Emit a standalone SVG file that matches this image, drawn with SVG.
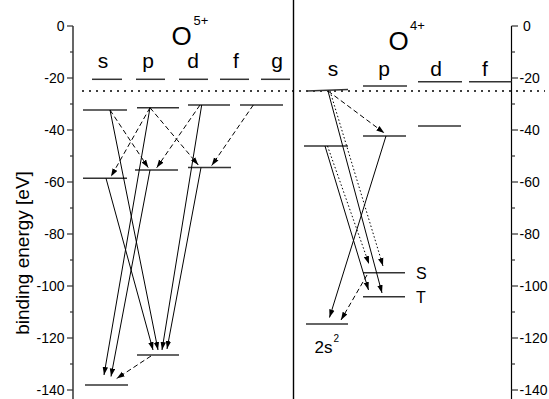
<svg xmlns="http://www.w3.org/2000/svg" width="549" height="399" viewBox="0 0 549 399">
<defs>
<marker id="ah" markerUnits="userSpaceOnUse" markerWidth="10" markerHeight="8" refX="8" refY="3" orient="auto">
<path d="M0,0.3 L8,3 L0,5.7 z" fill="#000"/>
</marker>
<style>
text{font-family:"Liberation Sans",Arial,sans-serif;fill:#000}
.lv{stroke:#333;stroke-width:1.5;fill:none}
.ax{stroke:#000;stroke-width:1.2;fill:none}
.tk{stroke:#333;stroke-width:1.2}
.tl{font-size:14px}
.orb{font-size:21px;text-anchor:middle}
.ar{stroke:#000;stroke-width:1;fill:none;marker-end:url(#ah)}
.da{stroke-dasharray:5 3}
.do{stroke-dasharray:1.5 2.2}
</style>
</defs>
<rect width="549" height="399" fill="#fff"/>

<g id="axes">
<line class="ax" x1="73" y1="26" x2="73" y2="399"/>
<line class="ax" x1="511.5" y1="26" x2="511.5" y2="399"/>
<line x1="293.5" y1="0" x2="293.5" y2="399" stroke="#000" stroke-width="1.4"/>
<g class="tk">
<line x1="67" y1="26" x2="73" y2="26"/><line x1="67" y1="78" x2="73" y2="78"/><line x1="67" y1="130" x2="73" y2="130"/><line x1="67" y1="182" x2="73" y2="182"/><line x1="67" y1="234" x2="73" y2="234"/><line x1="67" y1="286" x2="73" y2="286"/><line x1="67" y1="338" x2="73" y2="338"/><line x1="67" y1="390" x2="73" y2="390"/>
<line x1="70" y1="52" x2="73" y2="52"/><line x1="70" y1="104" x2="73" y2="104"/><line x1="70" y1="156" x2="73" y2="156"/><line x1="70" y1="208" x2="73" y2="208"/><line x1="70" y1="260" x2="73" y2="260"/><line x1="70" y1="312" x2="73" y2="312"/><line x1="70" y1="364" x2="73" y2="364"/>
<line x1="511.5" y1="26" x2="518" y2="26"/><line x1="511.5" y1="78" x2="518" y2="78"/><line x1="511.5" y1="130" x2="518" y2="130"/><line x1="511.5" y1="182" x2="518" y2="182"/><line x1="511.5" y1="234" x2="518" y2="234"/><line x1="511.5" y1="286" x2="518" y2="286"/><line x1="511.5" y1="338" x2="518" y2="338"/><line x1="511.5" y1="390" x2="518" y2="390"/>
<line x1="511.5" y1="52" x2="515" y2="52"/><line x1="511.5" y1="104" x2="515" y2="104"/><line x1="511.5" y1="156" x2="515" y2="156"/><line x1="511.5" y1="208" x2="515" y2="208"/><line x1="511.5" y1="260" x2="515" y2="260"/><line x1="511.5" y1="312" x2="515" y2="312"/><line x1="511.5" y1="364" x2="515" y2="364"/>
</g>
<g class="tl" text-anchor="end">
<text x="64.5" y="31">0</text><text x="64.5" y="83">-20</text><text x="64.5" y="135">-40</text><text x="64.5" y="187">-60</text><text x="64.5" y="239">-80</text><text x="64.5" y="291">-100</text><text x="64.5" y="343">-120</text><text x="64.5" y="395">-140</text>
</g>
<g class="tl">
<text x="523" y="31">0</text><text x="519.5" y="83">-20</text><text x="519.5" y="135">-40</text><text x="519.5" y="187">-60</text><text x="519.5" y="239">-80</text><text x="519.5" y="291">-100</text><text x="519.5" y="343">-120</text><text x="519.5" y="395">-140</text>
</g>
<text transform="translate(29,253) rotate(-90)" text-anchor="middle" font-size="19">binding energy [eV]</text>
<line x1="82" y1="91" x2="545" y2="91" stroke="#000" stroke-width="1.4" stroke-dasharray="2 5"/>
</g>

<g id="title-O5">
<text x="171.5" y="45" font-size="26">O</text><text x="193.5" y="25" font-size="13">5+</text>
</g>
<g id="title-O4">
<text x="388.5" y="50" font-size="26">O</text><text x="410" y="29.5" font-size="13">4+</text>
</g>

<g id="O5-top">
<text class="orb" x="103" y="68">s</text><text class="orb" x="148" y="68">p</text><text class="orb" x="193" y="68">d</text><text class="orb" x="236" y="68">f</text><text class="orb" x="277" y="68">g</text>
<line class="lv" x1="92" y1="79.3" x2="122" y2="79.3"/><line class="lv" x1="136" y1="79.3" x2="165" y2="79.3"/><line class="lv" x1="179" y1="79.3" x2="208" y2="79.3"/><line class="lv" x1="220" y1="79.3" x2="249" y2="79.3"/><line class="lv" x1="261" y1="79.3" x2="290" y2="79.3"/>
</g>
<g id="O5-s2"><line class="lv" x1="83" y1="110" x2="127" y2="110"/></g>
<g id="O5-p2"><line class="lv" x1="137" y1="107.7" x2="179" y2="107.7"/></g>
<g id="O5-d2"><line class="lv" x1="188" y1="105" x2="230" y2="105"/></g>
<g id="O5-f2"><line class="lv" x1="240" y1="105" x2="283" y2="105"/></g>
<g id="O5-s3"><line class="lv" x1="83" y1="178.3" x2="127" y2="178.3"/></g>
<g id="O5-p3"><line class="lv" x1="135" y1="170" x2="178" y2="170"/></g>
<g id="O5-d3"><line class="lv" x1="188" y1="167.5" x2="231" y2="167.5"/></g>
<g id="O5-pB"><line class="lv" x1="137" y1="355" x2="179" y2="355"/></g>
<g id="O5-sB"><line class="lv" x1="85" y1="385" x2="128" y2="385"/></g>

<g id="O4-top">
<text class="orb" x="333" y="76">s</text><text class="orb" x="384" y="76">p</text><text class="orb" x="436" y="76">d</text><text class="orb" x="485" y="76">f</text>
<line class="lv" x1="307" y1="91" x2="348" y2="89.5"/><line class="lv" x1="363" y1="86" x2="407" y2="86"/><line class="lv" x1="418" y1="81.7" x2="462" y2="81.7"/><line class="lv" x1="469" y1="81.7" x2="511.5" y2="81.7"/>
</g>
<g id="O4-s2"><line class="lv" x1="304" y1="146" x2="348" y2="146"/></g>
<g id="O4-p2"><line class="lv" x1="363" y1="136" x2="406" y2="136"/></g>
<g id="O4-d2"><line class="lv" x1="418" y1="126" x2="461" y2="126"/></g>
<g id="O4-S"><line class="lv" x1="363" y1="272.7" x2="405" y2="272.7"/><text x="416" y="278.5" font-size="16">S</text></g>
<g id="O4-T"><line class="lv" x1="363" y1="296.7" x2="405" y2="296.7"/><text x="416" y="302.5" font-size="16">T</text></g>
<g id="O4-2s2"><line class="lv" x1="306" y1="324" x2="348" y2="324"/><text x="314.5" y="353" font-size="17">2s</text><text x="333.5" y="342" font-size="10">2</text></g>

<g id="connectors">
<line class="ar" x1="110" y1="110" x2="158" y2="350"/>
<line class="ar" x1="106" y1="178.3" x2="153" y2="350"/>
<line class="ar" x1="201.7" y1="105" x2="162" y2="350"/>
<line class="ar" x1="201" y1="167.5" x2="167" y2="349"/>
<line class="ar" x1="150" y1="107.7" x2="104" y2="375"/>
<line class="ar" x1="150" y1="170" x2="111" y2="376.5"/>
<line class="ar da" x1="110" y1="110" x2="148.3" y2="167.7"/>
<line class="ar da" x1="150" y1="107.7" x2="111" y2="176.5"/>
<line class="ar da" x1="150" y1="107.7" x2="198.3" y2="165"/>
<line class="ar da" x1="200" y1="105" x2="156.7" y2="167.7"/>
<line class="ar da" x1="253.3" y1="105" x2="211.7" y2="165.5"/>
<line class="ar da" x1="151" y1="356" x2="116.7" y2="378.5"/>
<line class="ar da" x1="328" y1="91" x2="384.3" y2="133"/>
<line class="ar" x1="328" y1="91" x2="382" y2="293"/>
<line class="ar do" x1="330" y1="91" x2="383" y2="266"/>
<line class="ar" x1="325" y1="146" x2="368.5" y2="290"/>
<line class="ar do" x1="327.5" y1="146" x2="369" y2="264"/>
<line class="ar" x1="386" y1="136" x2="329.5" y2="317.5"/>
<line class="ar da" x1="367" y1="275" x2="341" y2="320"/>
</g>
</svg>
